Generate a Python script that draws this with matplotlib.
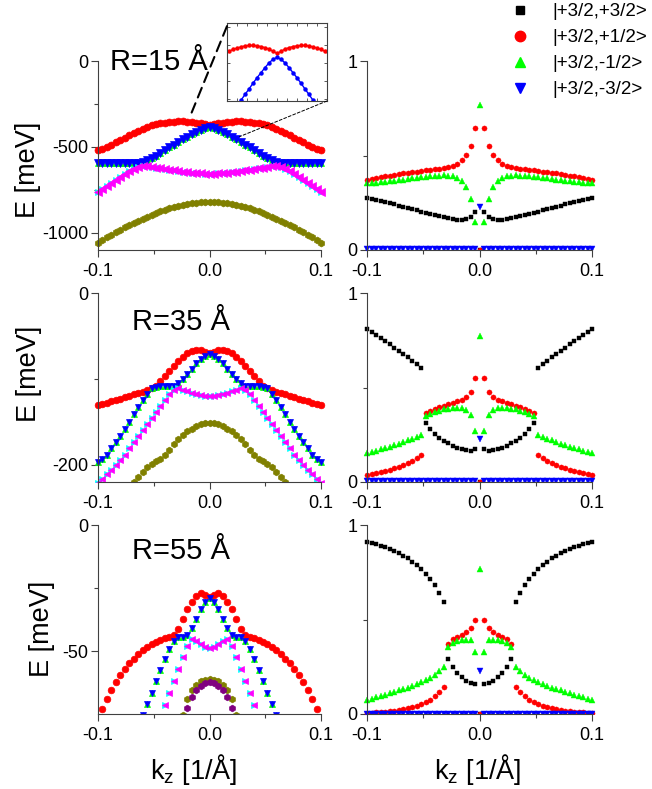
import numpy as np
import matplotlib.pyplot as plt
from matplotlib.lines import Line2D
from matplotlib.patches import ConnectionPatch, Rectangle

plt.rcParams['font.family'] = ['Liberation Sans', 'DejaVu Sans']
plt.rcParams['axes.unicode_minus'] = False
plt.rcParams['mathtext.default'] = 'regular'

nan = np.nan

# k_z >= 0 half of the grid (1/A); spectra are symmetric in k_z
kz = [0.000, 0.004, 0.008, 0.012, 0.016, 0.020, 0.024, 0.028, 0.032, 0.036,
      0.040, 0.044, 0.048, 0.052, 0.056, 0.060, 0.064, 0.068, 0.072, 0.076,
      0.080, 0.084, 0.088, 0.092, 0.096, 0.100]

# hole levels, R = 15 A (meV)
r15_red = [-374, -368, -362, -358, -355, -353, -352, -352, -353, -356, -359, -363, -368,
           -375, -384, -395, -407, -420, -433, -446, -459, -473, -486, -499, -510, -520]
r15_blue = [-385, -390, -400, -413, -427, -441, -456, -472, -487, -503, -519, -535, -550,
            -565, -578, -588, -594, -596, -596, -596, -595, -595, -594, -594, -593, -593]
r15_magenta = [-655, -655, -654, -652, -650, -647, -644, -640, -636, -632, -628, -624, -620,
               -616, -613, -612, -615, -627, -643, -660, -677, -695, -712, -729, -746, -763]
r15_olive = [-820, -821, -822, -824, -827, -831, -836, -842, -849, -856, -865, -874, -884,
             -895, -906, -918, -930, -943, -956, -969, -983, -997, -1012, -1027, -1043, -1058]

# hole levels, R = 35 A (meV)
r35_red = [-70, -68.5, -66.8, -66.5, -67.5, -70, -74, -79, -85, -91, -97, -103, -108,
           -111, -113, -115, -116.5, -118, -119.5, -121, -123, -124.5, -126, -127.5, -129, -130.5]
r35_blue = [-71, -73, -77, -82, -88, -94, -100, -105, -108, -108.5, -108.5, -108.5, -109,
            -111, -117, -125, -133, -141, -150, -158, -166, -174, -181, -188, -193, -197]
r35_magenta = [-120, -119.7, -119, -118, -116.5, -114.5, -112.5, -111, -113, -118, -125, -132, -139,
               -146, -153, -160, -167, -174, -181, -188, -194, -200, -206, -211, -216, -221]
r35_olive = [-151, -151.5, -153, -155, -158, -161, -165, -170, -176, -183, -189, -193, -196,
             -199, -203, -208, -214, -220, -226, nan, nan, nan, nan, nan, nan, nan]

# hole levels, R = 55 A (meV)
r55_red = [-28.4, -27.6, -27.1, -28.3, -30.5, -33.5, -37.3, -41.2, -43.6, -44.5, -45.0, -45.6, -46.4,
           -47.4, -48.5, -49.8, -51.3, -53.0, -54.9, -57.0, -59.4, -62.3, -65.6, -69.2, -73.2, -77.5]
r55_blue = [-29.1, -30.5, -33.5, -37.3, -41.0, -43.8, -44.5, -44.6, -46.0, -49.2, -53.2, -57.6, -62.0,
            -66.5, -71.0, -75.5, nan, nan, nan, nan, nan, nan, nan, nan, nan, nan]
r55_magenta = [-48.7, -48.3, -47.3, -46.0, -45.2, -48.0, -52.5, -57.2, -62.0, -66.8, -71.6, -76.4, nan,
               nan, nan, nan, nan, nan, nan, nan, nan, nan, nan, nan, nan, nan]
r55_olive = [-61.1, -61.4, -62.1, -63.4, -65.4, -68.9, -75.5, nan, nan, nan, nan, nan, nan,
             nan, nan, nan, nan, nan, nan, nan, nan, nan, nan, nan, nan, nan]
r55_purple = [-62.2, -62.7, -63.8, -65.6, -68.3, -72.6, -78.0, nan, nan, nan, nan, nan, nan,
              nan, nan, nan, nan, nan, nan, nan, nan, nan, nan, nan, nan, nan]

# weights of the |+3/2, m> components in the top state
w15_black = [0.0, 0.200, 0.175, 0.165, 0.160, 0.160, 0.162, 0.167, 0.173, 0.179, 0.185, 0.191, 0.197,
             0.203, 0.209, 0.216, 0.222, 0.228, 0.235, 0.241, 0.248, 0.254, 0.260, 0.266, 0.271, 0.276]
w15_red = [0.0, 0.647, 0.548, 0.503, 0.474, 0.457, 0.447, 0.440, 0.435, 0.431, 0.427, 0.424, 0.421,
           0.418, 0.415, 0.412, 0.409, 0.405, 0.402, 0.398, 0.394, 0.390, 0.386, 0.381, 0.376, 0.371]
w15_green = [0.769, 0.150, 0.272, 0.332, 0.365, 0.382, 0.390, 0.394, 0.395, 0.394, 0.392, 0.390, 0.387,
             0.385, 0.382, 0.379, 0.376, 0.373, 0.370, 0.367, 0.364, 0.361, 0.359, 0.357, 0.355, 0.353]
w15_blue = [0.230, 0.003, 0.003, 0.003, 0.003, 0.003, 0.003, 0.003, 0.003, 0.003, 0.003, 0.003, 0.003,
            0.003, 0.003, 0.003, 0.003, 0.003, 0.003, 0.003, 0.003, 0.003, 0.003, 0.003, 0.003, 0.003]

w35_black = [0.0, 0.172, 0.166, 0.168, 0.174, 0.182, 0.192, 0.205, 0.219, 0.235, 0.252, 0.280, 0.310,
             0.602, 0.622, 0.641, 0.659, 0.677, 0.694, 0.711, 0.728, 0.745, 0.762, 0.779, 0.796, 0.812]
w35_red = [0.0, 0.552, 0.478, 0.450, 0.436, 0.427, 0.419, 0.411, 0.403, 0.395, 0.386, 0.376, 0.364,
           0.142, 0.125, 0.111, 0.099, 0.089, 0.080, 0.072, 0.065, 0.058, 0.052, 0.046, 0.041, 0.036]
w35_green = [0.770, 0.269, 0.354, 0.380, 0.390, 0.392, 0.391, 0.388, 0.384, 0.378, 0.370, 0.360, 0.348,
             0.250, 0.240, 0.230, 0.221, 0.212, 0.203, 0.195, 0.187, 0.180, 0.173, 0.166, 0.160, 0.154]
w35_blue = [0.225, 0.003, 0.003, 0.003, 0.003, 0.003, 0.003, 0.003, 0.003, 0.003, 0.003, 0.003, 0.003,
            0.003, 0.003, 0.003, 0.003, 0.003, 0.003, 0.003, 0.003, 0.003, 0.003, 0.003, 0.003, 0.003]

w55_black = [0.0, 0.159, 0.163, 0.177, 0.195, 0.218, 0.250, 0.290, 0.593, 0.640, 0.680, 0.713, 0.741,
             0.766, 0.787, 0.806, 0.823, 0.838, 0.851, 0.862, 0.873, 0.882, 0.890, 0.897, 0.903, 0.908]
w55_red = [0.0, 0.499, 0.455, 0.434, 0.420, 0.410, 0.395, 0.368, 0.142, 0.118, 0.095, 0.075, 0.062,
           0.052, 0.043, 0.036, 0.030, 0.025, 0.020, 0.017, 0.014, 0.012, 0.010, 0.008, 0.007, 0.006]
w55_green = [0.765, 0.327, 0.389, 0.392, 0.390, 0.385, 0.375, 0.356, 0.250, 0.228, 0.208, 0.190, 0.178,
             0.167, 0.157, 0.148, 0.140, 0.132, 0.125, 0.117, 0.110, 0.103, 0.096, 0.089, 0.081, 0.074]
w55_blue = [0.225, 0.002, 0.002, 0.002, 0.002, 0.002, 0.002, 0.002, 0.002, 0.002, 0.002, 0.002, 0.002,
            0.002, 0.002, 0.002, 0.002, 0.002, 0.002, 0.002, 0.002, 0.002, 0.002, 0.002, 0.002, 0.002]

legend_labels = ['|+3/2,+3/2>', '|+3/2,+1/2>', '|+3/2,-1/2>', '|+3/2,-3/2>']


def mirror(v):
    v = np.asarray(v, dtype=float)
    return np.concatenate([v[:0:-1], v])


k = np.concatenate([-np.asarray(kz)[:0:-1], kz])

AXC = '#404040'


def style(ax, ylim, yticks, ylabels, yminor):
    for s in ['top', 'right']:
        ax.spines[s].set_visible(False)
    for s in ['left', 'bottom']:
        ax.spines[s].set_color(AXC)
        ax.spines[s].set_linewidth(0.8)
    ax.set_xlim(-0.1, 0.1)
    ax.set_ylim(*ylim)
    ax.set_xticks([-0.1, 0.0, 0.1])
    ax.set_xticklabels(['-0.1', '0.0', '0.1'])
    ax.set_xticks([-0.05, 0.05], minor=True)
    ax.set_yticks(yticks)
    ax.set_yticklabels(ylabels)
    ax.set_yticks(yminor, minor=True)
    ax.tick_params(which='major', direction='out', length=5, width=0.8, color=AXC,
                   labelsize=13, pad=2)
    ax.tick_params(which='minor', direction='out', length=3, width=0.8, color=AXC)
    ax.tick_params(axis='x', pad=4)
    ax.patch.set_alpha(0)


def y_clip(ax):
    # clip marks only in y, so the edge points at k_z = +-0.1 stay whole
    r = Rectangle((-0.05, 0), 1.1, 1.05, transform=ax.transAxes,
                  facecolor='none', edgecolor='none')
    ax.add_patch(r)
    return r


def band_panel(ax, red, blue, magenta, olive, purple=None, ms=4.6):
    clip = y_clip(ax)
    series = [
        (red, 'o', 'red', ms),
        (blue, '^', 'lime', ms - 0.4),
        (blue, 'v', 'blue', ms + 0.1),
        (magenta, '>', 'cyan', ms - 0.5),
        (magenta, '<', 'magenta', ms + 0.1),
        (olive, 'h', 'olive', ms),
    ]
    if purple is not None:
        series.append((purple, 'h', 'purple', ms))
    for vals, m, c, s in series:
        ln, = ax.plot(k, mirror(vals), m, color=c, mec=c, ms=s, mew=0.5)
        ln.set_clip_path(clip)


def weight_panel(ax, black, red, green, blue):
    clip = y_clip(ax)
    for vals, m, c, s in [(black, 's', 'black', 3.0), (red, 'o', 'red', 3.7),
                          (green, '^', 'lime', 4.0), (blue, 'v', 'blue', 4.0)]:
        ln, = ax.plot(k, mirror(vals), m, color=c, mec=c, ms=s, mew=0.3)
        ln.set_clip_path(clip)


fig = plt.figure(figsize=(6.52, 7.89), dpi=100)
W, H = 652, 789


def px_axes(x0, y0, x1, y1):
    return fig.add_axes([x0 / W, 1 - y1 / H, (x1 - x0) / W, (y1 - y0) / H])


rows = [(61, 250), (293, 482), (525, 714)]
left_axes = [px_axes(98, t, 321, b) for t, b in rows]
right_axes = [px_axes(367, t, 592, b) for t, b in rows]

a1, a2, a3 = left_axes
band_panel(a1, r15_red, r15_blue, r15_magenta, r15_olive, ms=5.0)
style(a1, (-1100, 0), [-1000, -500, 0], ['-1000', '-500', '0'], [-750, -250])
band_panel(a2, r35_red, r35_blue, r35_magenta, r35_olive, ms=4.8)
style(a2, (-220, 0), [-200, 0], ['-200', '0'], [-100])
band_panel(a3, r55_red, r55_blue, r55_magenta, r55_olive, r55_purple, ms=4.8)
style(a3, (-75, 0), [-50, 0], ['-50', '0'], [-25])

for ax, w in zip(right_axes, [(w15_black, w15_red, w15_green, w15_blue),
                              (w35_black, w35_red, w35_green, w35_blue),
                              (w55_black, w55_red, w55_green, w55_blue)]):
    weight_panel(ax, *w)
    style(ax, (0, 1), [0, 1], ['0', '1'], [0.5])

# radius labels
a1.text(0.054, 0.952, 'R=15 Å', transform=a1.transAxes, fontsize=21, va='baseline')
a2.text(0.152, 0.804, 'R=35 Å', transform=a2.transAxes, fontsize=21, va='baseline')
a3.text(0.152, 0.820, 'R=55 Å', transform=a3.transAxes, fontsize=21, va='baseline')

# axis titles
for (xc, yc) in [(28, 170), (29, 374), (42, 629)]:
    fig.text(xc / W, 1 - yc / H, 'E [meV]', rotation=90, fontsize=19.5,
             ha='center', va='center')
for xc in [194, 478]:
    fig.text(xc / W, 1 - 779 / H, r'$\mathregular{k_z}$ [1/Å]', fontsize=19.5,
             ha='center', va='baseline')

# zoom of the top band crossing near k_z = 0
ins = px_axes(227, 23, 327, 101)
ins.plot(k, mirror(r15_red), '-o', color='red', lw=1.0, ms=2.2)
ins.plot(k, mirror(r15_blue), '-o', color='blue', lw=1.0, ms=2.2)
ins.set_xlim(-0.05, 0.05)
ins.set_ylim(-505, -290)
ins.set_xticks(np.arange(-5, 6) * 0.01)
ins.set_yticks([-500, -450, -400, -350, -300])
ins.tick_params(direction='in', length=2.5, width=0.6, top=True, right=True,
                labelbottom=False, labelleft=False, color=AXC)
for s in ins.spines.values():
    s.set_color(AXC)
    s.set_linewidth(0.8)

fig.add_artist(ConnectionPatch(xyA=(0.0, 0.96), coordsA=ins.transAxes,
                               xyB=(-0.016, -300), coordsB=a1.transData,
                               color='black', lw=1.5, linestyle=(0, (5, 3))))
fig.add_artist(ConnectionPatch(xyA=(1.0, 0.0), coordsA=ins.transAxes,
                               xyB=(0.027, -440), coordsB=a1.transData,
                               color='black', lw=0.7, linestyle=(0, (3, 2))))

handles = [
    Line2D([], [], ls='none', marker='s', color='black', ms=6),
    Line2D([], [], ls='none', marker='o', color='red', ms=7.5),
    Line2D([], [], ls='none', marker='^', color='lime', ms=7.5),
    Line2D([], [], ls='none', marker='v', color='blue', ms=7.5),
]
fig.legend(handles, legend_labels, loc='upper left', bbox_to_anchor=(511 / W, 1 - 3 / H),
           frameon=False, fontsize=13.5, handlelength=1.0, handletextpad=1.22,
           labelspacing=0.48, borderpad=0, borderaxespad=0)

fig.savefig('out.png', dpi=100)
